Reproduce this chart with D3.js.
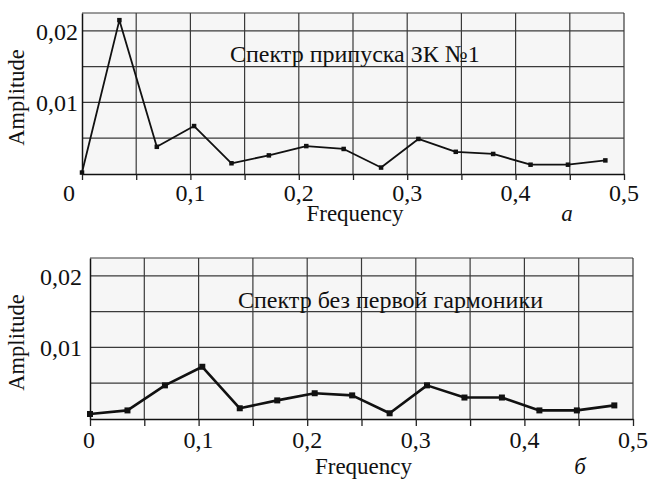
<!DOCTYPE html>
<html>
<head>
<meta charset="utf-8">
<script src="https://cdn.jsdelivr.net/npm/d3@7"></script>
<style>
    body { margin: 0; background: #fff; }
    svg text { font-family: "Liberation Serif", "DejaVu Serif", serif; fill: #111; }
</style>
</head>
<body>
<svg id="chart" width="648" height="482"></svg>
<script>
// harmonic frequencies (k/29)
const freq = [0, 0.0345, 0.069, 0.1034, 0.1379, 0.1724, 0.2069, 0.2414, 0.2759, 0.3103, 0.3448, 0.3793, 0.4138, 0.4483, 0.4828];
// panel a - full spectrum
const ampA = [0.0002, 0.0215, 0.0038, 0.0067, 0.0015, 0.0026, 0.0039, 0.0035, 0.0009, 0.0049, 0.0031, 0.0028, 0.0013, 0.0013, 0.0019];
// panel b - without first harmonic
const ampB = [0.0007, 0.0012, 0.0047, 0.0073, 0.0015, 0.0026, 0.0036, 0.0033, 0.0008, 0.0047, 0.0030, 0.0030, 0.0012, 0.0012, 0.0019];

const xTickLabels = [0, 0.1, 0.2, 0.3, 0.4, 0.5];
const xGrid = [0.05, 0.1, 0.15, 0.2, 0.25, 0.3, 0.35, 0.4, 0.45, 0.5];
const yTickLabels = [0.01, 0.02];
const yGrid = [0.005, 0.01, 0.015, 0.02];
const titles = ["Спектр припуска ЗК №1", "Спектр без первой гармоники"];
const letters = ["a", "б"];

const fmt = d => d === 0 ? "0" : String(d).replace(".", ",");

const svg = d3.select("#chart");

function drawPanel(cfg, values, title, letter) {
    const x = d3.scaleLinear().domain([0, 0.5]).range([cfg.left, cfg.right]);
    const y = d3.scaleLinear().domain([0, 0.0225]).range([cfg.bottom, cfg.top]);
    const g = svg.append("g");

    // plot background
    g.append("rect")
        .attr("x", cfg.left).attr("y", cfg.top)
        .attr("width", cfg.right - cfg.left).attr("height", cfg.bottom - cfg.top)
        .attr("fill", "#f6f6f6");

    // grid
    g.selectAll(".vgrid").data(xGrid).join("line")
        .attr("x1", d => x(d)).attr("x2", d => x(d))
        .attr("y1", cfg.top).attr("y2", cfg.bottom)
        .attr("stroke", "#3a3a3a").attr("stroke-width", 1.2);
    g.selectAll(".hgrid").data(yGrid).join("line")
        .attr("x1", cfg.left).attr("x2", cfg.right)
        .attr("y1", d => y(d)).attr("y2", d => y(d))
        .attr("stroke", "#3a3a3a").attr("stroke-width", 1.2);
    // top border
    g.append("line")
        .attr("x1", cfg.left).attr("x2", cfg.right)
        .attr("y1", cfg.top).attr("y2", cfg.top)
        .attr("stroke", "#3a3a3a").attr("stroke-width", 1.2);

    // axes
    const xAxis = d3.axisBottom(x).tickValues([0].concat(xGrid)).tickSize(cfg.tick).tickSizeOuter(0).tickFormat("");
    const xG = g.append("g").attr("transform", `translate(0,${cfg.bottom})`).call(xAxis);
    xG.selectAll("line").attr("stroke", "#222").attr("stroke-width", 1.3);
    xG.select(".domain").attr("stroke", "#111").attr("stroke-width", 1.5);

    const yAxis = d3.axisLeft(y).tickValues([]).tickSizeOuter(0);
    const yG = g.append("g").attr("transform", `translate(${cfg.left},0)`).call(yAxis);
    yG.select(".domain").attr("stroke", "#111").attr("stroke-width", 1.5);

    // tick labels
    g.selectAll(".xl").data(xTickLabels).join("text")
        .attr("x", d => x(d) + (d === 0 ? cfg.zeroShift : 0))
        .attr("y", cfg.bottom + cfg.xLabelGap)
        .attr("text-anchor", "middle")
        .style("font-size", "24px")
        .text(fmt);
    g.selectAll(".yl").data(yTickLabels).join("text")
        .attr("x", cfg.left - cfg.yLabelGap)
        .attr("y", d => y(d) + 9)
        .attr("text-anchor", "end")
        .style("font-size", "24px")
        .text(fmt);

    // line + markers
    const pts = freq.map((f, i) => [f, values[i]]);
    g.append("path")
        .datum(pts)
        .attr("fill", "none")
        .attr("stroke", "#111")
        .attr("stroke-width", cfg.lineW)
        .attr("stroke-linejoin", "round")
        .attr("d", d3.line().x(d => x(d[0])).y(d => y(d[1])));
    g.selectAll(".mk").data(pts).join("rect")
        .attr("x", d => x(d[0]) - cfg.mk / 2)
        .attr("y", d => y(d[1]) - cfg.mk / 2)
        .attr("width", cfg.mk).attr("height", cfg.mk)
        .attr("fill", "#111");

    // annotation
    g.append("text")
        .attr("x", cfg.titleX).attr("y", cfg.titleY)
        .style("font-size", "24px")
        .text(title);

    // axis titles
    g.append("text")
        .attr("transform", `translate(24,${(cfg.top + cfg.bottom) / 2 + 4}) rotate(-90)`)
        .attr("text-anchor", "middle")
        .style("font-size", "22.5px")
        .text("Amplitude");
    g.append("text")
        .attr("x", (cfg.left + cfg.right) / 2 + 2)
        .attr("y", cfg.bottom + cfg.xTitleGap)
        .attr("text-anchor", "middle")
        .style("font-size", "23px")
        .text("Frequency");
    g.append("text")
        .attr("x", cfg.letterX)
        .attr("y", cfg.bottom + cfg.xTitleGap)
        .attr("text-anchor", "middle")
        .style("font-size", "23px")
        .style("font-style", "italic")
        .text(letter);
}

drawPanel({left: 82, right: 624, top: 13, bottom: 174, tick: 6, zeroShift: -13,
           xLabelGap: 27, yLabelGap: 4, xTitleGap: 47, lineW: 1.8, mk: 4.5,
           titleX: 230, titleY: 62, letterX: 567}, ampA, titles[0], letters[0]);
drawPanel({left: 90, right: 633, top: 258, bottom: 419, tick: 7, zeroShift: -1,
           xLabelGap: 29, yLabelGap: 8, xTitleGap: 55, lineW: 2.6, mk: 6,
           titleX: 238, titleY: 308, letterX: 580}, ampB, titles[1], letters[1]);
</script>
</body>
</html>
